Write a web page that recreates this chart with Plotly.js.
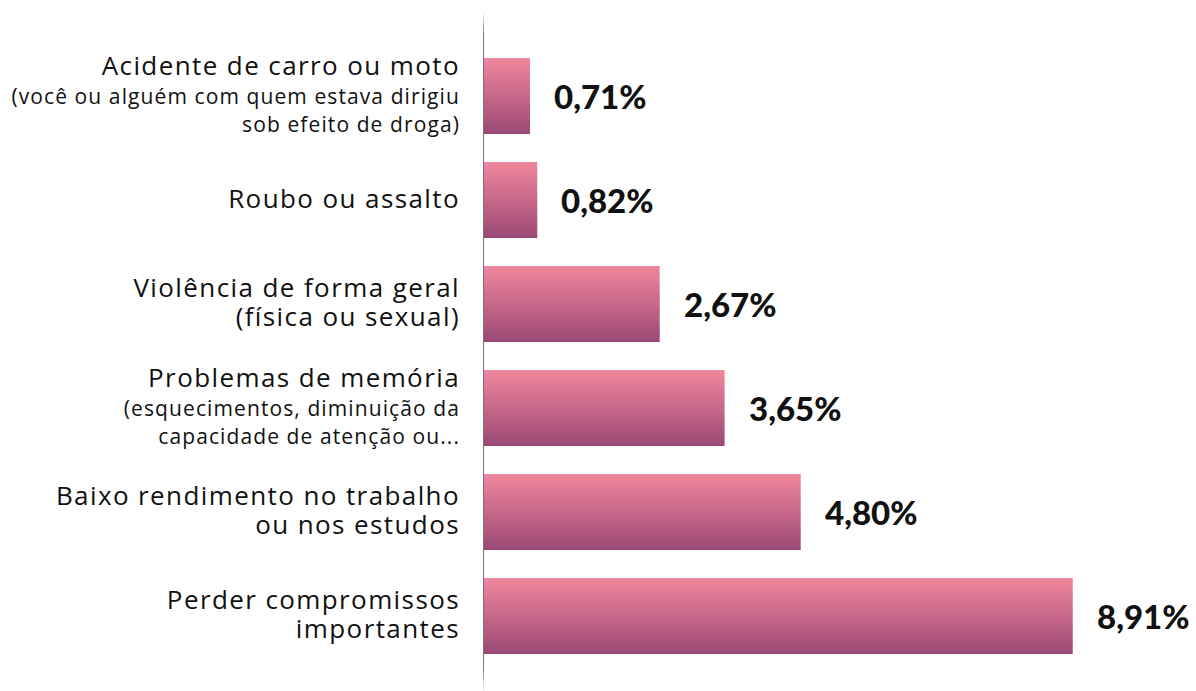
<!DOCTYPE html>
<html>
<head>
<meta charset="utf-8">
<script src="https://cdn.plot.ly/plotly-3.0.1.min.js"></script>
<style>html,body{margin:0;padding:0;background:#fff;}#chart{width:1196px;height:691px;}</style>
</head>
<body>
<div id="chart"></div>
<script>
// Data
const mainLabels = [
  "Acidente de carro ou moto",
  "Roubo ou assalto",
  "Violência de forma geral<br>(física ou sexual)",
  "Problemas de memória",
  "Baixo rendimento no trabalho<br>ou nos estudos",
  "Perder compromissos<br>importantes"
];
const subLabels = [
  "(você ou alguém com quem estava dirigiu<br>sob efeito de droga)",
  "",
  "",
  "(esquecimentos, diminuição da<br>capacidade de atenção ou...",
  "",
  ""
];
const values = [0.71, 0.82, 2.67, 3.65, 4.80, 8.91];

const topColor = "#F0889D";
const bottomColor = "#9B4875";
const half = 0.365;

const idx = values.map((v, i) => i);
const mainStyle = '<span style="font-size:26px;letter-spacing:1.4px">';
const subStyle = '<span style="font-size:21px;letter-spacing:1.1px">';
const tickText = mainLabels.map((m, i) => {
  let s = mainStyle + m.split('<br>').join('</span><br>' + mainStyle) + '</span>';
  if (subLabels[i]) {
    s += '<br>' + subStyle + subLabels[i].split('<br>').join('</span><br>' + subStyle) + '</span>';
  }
  return s;
});

const traces = values.map((v, i) => ({
  type: 'scatter',
  mode: 'lines',
  x: [0, v, v, 0, 0],
  y: [i - half, i - half, i + half, i + half, i - half],
  fill: 'toself',
  line: {width: 0, color: 'rgba(0,0,0,0)'},
  fillgradient: {
    type: 'vertical',
    start: i - half,
    stop: i + half,
    colorscale: [[0, topColor], [1, bottomColor]]
  },
  hoverinfo: 'skip',
  showlegend: false
}));

const annotations = values.map((v, i) => ({
  x: v, y: i, xref: 'x', yref: 'y',
  text: v.toFixed(2).replace('.', ',') + '%',
  showarrow: false, xanchor: 'left', yanchor: 'middle', xshift: 22,
  font: {family: 'Lato, "Open Sans", sans-serif', size: 33, weight: 900, color: '#111'}
}));

// axis line with faded ends
const shapes = [];
const segs = [
  [1.054, 1.046, '#f2f2f2'], [1.046, 1.038, '#d8d8d8'], [1.038, 1.030, '#b8b8b8'], [1.030, 1.020, '#999'],
  [1.020, -0.005, '#777'],
  [-0.005, -0.013, '#999'], [-0.013, -0.021, '#bbb'], [-0.021, -0.029, '#d8d8d8'], [-0.029, -0.037, '#f0f0f0']
];
segs.forEach(s => shapes.push({
  type: 'line', xref: 'x', yref: 'paper', x0: 0, x1: 0, y0: s[0], y1: s[1],
  line: {color: s[2], width: 2}
}));

const layout = {
  width: 1196, height: 691,
  margin: {l: 483, r: 18, t: 44, b: 23},
  paper_bgcolor: '#fff', plot_bgcolor: '#fff',
  showlegend: false,
  xaxis: {range: [0, 10.5], showgrid: false, zeroline: false, showticklabels: false, ticks: '', fixedrange: true},
  yaxis: {
    range: [5.5, -0.5], tickvals: idx, ticktext: tickText,
    showgrid: false, zeroline: false, ticks: '', ticklabelstandoff: 22,
    tickfont: {family: '"Open Sans", sans-serif', size: 22, color: '#111'},
    fixedrange: true
  },
  shapes: shapes,
  annotations: annotations
};

Plotly.newPlot('chart', traces, layout, {displayModeBar: false, staticPlot: true});
</script>
</body>
</html>
